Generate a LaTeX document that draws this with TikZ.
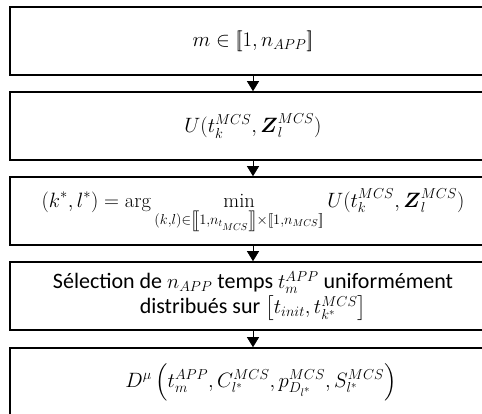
\documentclass[tikz,border=0pt]{standalone}
\usepackage{amsmath}
\usepackage{fontspec}
\newfontfamily\calibri{Carlito}
\usetikzlibrary{arrows.meta}
\newcommand{\lbb}{[\![}
\newcommand{\rbb}{]\!]}
\tikzset{
  stagebox/.style={draw=black, line width=1.6pt, minimum width=486pt, minimum height=68pt,
    inner sep=0pt, align=center, font=\fontsize{20.5}{25}\selectfont},
  bigmath/.style={font=\fontsize{22}{26}\selectfont},
  textbox/.style={stagebox, font=\fontsize{22}{25}\selectfont\calibri},
  flowarrow/.style={line width=0.8pt, -{Triangle[width=12pt,length=10pt]}}
}
\begin{document}
\begin{tikzpicture}[x=1pt,y=1pt]
\clip (0,0) rectangle (482,-414);
\fill[white] (0,0) rectangle (482,-414);
\node[stagebox, bigmath] (b1) at (253,-41) {$m \in \lbb 1, n_{APP} \rbb$};
\node[stagebox] (b2) at (253,-126) {$U(t_k^{MCS},\boldsymbol{Z}_l^{MCS})$};
\node[stagebox] (b3) at (253,-211) {$\displaystyle (k^*,l^*) = \arg \min\limits_{(k,l)\in\left[\!\left[1,n_{t_{MCS}}\right]\!\right]\times\lbb 1,n_{MCS}\rbb} U(t_k^{MCS},\boldsymbol{Z}_l^{MCS})$};
\node[textbox] (b4) at (253,-296) {S\'election de $n_{APP}$ temps $t_m^{APP}$ uniform\'ement\\distribu\'es sur $\left[t_{init},t_{k^*}^{MCS}\right]$};
\node[stagebox, bigmath] (b5) at (253,-382) {\hspace*{16pt}$D^{\mu}\left(t_m^{APP},C_{l^*}^{MCS},p_{D_{l^*}}^{MCS},S_{l^*}^{MCS}\right)$};
\draw[flowarrow] (b1.south) -- (b2.north);
\draw[flowarrow] (b2.south) -- (b3.north);
\draw[flowarrow] (b3.south) -- (b4.north);
\draw[flowarrow] (b4.south) -- (b5.north);
\end{tikzpicture}
\end{document}
